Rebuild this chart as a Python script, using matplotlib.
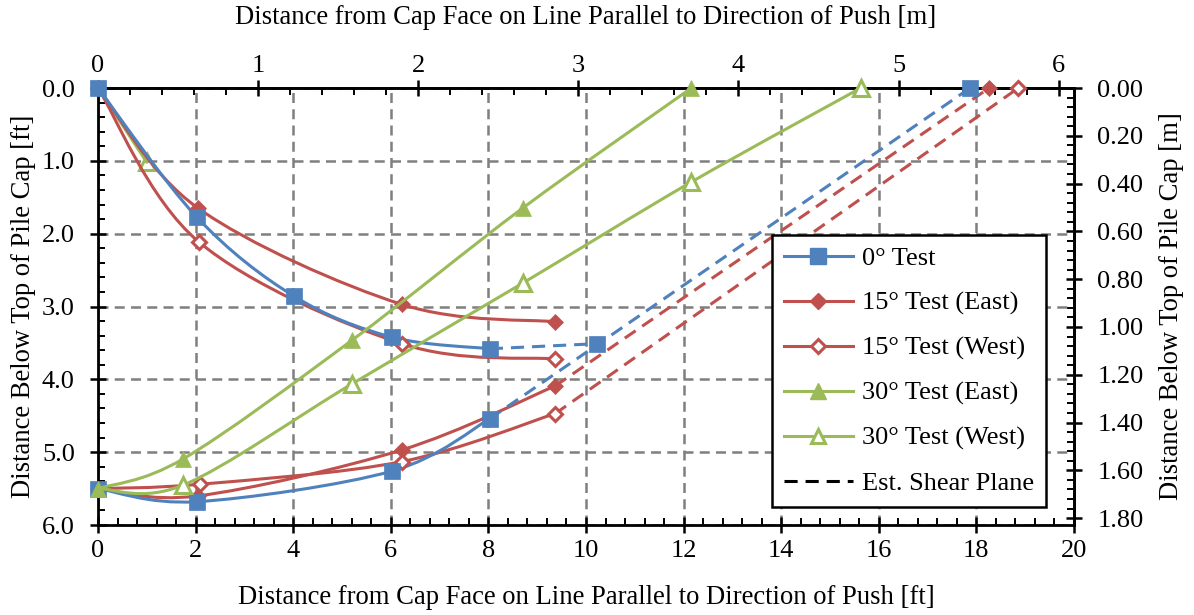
import matplotlib
matplotlib.use("Agg")
import matplotlib.pyplot as plt
import numpy as np
from matplotlib.path import Path
from matplotlib.patches import PathPatch
from matplotlib.lines import Line2D
from matplotlib.ticker import FixedLocator, FormatStrFormatter

plt.rcParams['font.family'] = ['Liberation Serif', 'DejaVu Serif']

# ---- data (ft) ----
zero_up_x = [0, 2.02, 4.02, 6.02, 8.03]
zero_up_y = [0, 1.77, 2.86, 3.42, 3.58]
zero_lo_x = [0, 2.02, 6.02, 8.03]
zero_lo_y = [5.5, 5.68, 5.26, 4.54]
zero_ext_x = [8.03, 10.23]
zero_ext_y = [3.58, 3.51]
zero_shear_x = [8.03, 17.87]
zero_shear_y = [4.54, 0.0]
zero_est_x = [10.23, 17.87]
zero_est_y = [3.51, 0.0]

e15_up_x = [0, 2.05, 6.22, 9.37]
e15_up_y = [0, 1.65, 2.97, 3.21]
e15_lo_x = [0, 2.05, 6.22, 9.37]
e15_lo_y = [5.5, 5.6, 4.97, 4.09]
e15_shear_x = [9.37, 18.26]
e15_shear_y = [4.09, 0.0]

w15_up_x = [0, 2.06, 6.22, 9.37]
w15_up_y = [0, 2.11, 3.51, 3.72]
w15_lo_x = [0, 2.09, 6.22, 9.37]
w15_lo_y = [5.5, 5.44, 5.13, 4.47]
w15_shear_x = [9.37, 18.86]
w15_shear_y = [4.47, 0.0]

e30_x = [0, 1.75, 5.21, 8.70, 12.16]
e30_y = [5.5, 5.09, 3.46, 1.65, 0.0]

w30_up_x = [0, 1.0]
w30_up_y = [0, 1.02]
w30_x = [0, 1.75, 5.21, 8.70, 12.16, 15.63]
w30_y = [5.5, 5.45, 4.06, 2.68, 1.29, 0.0]

x_ticks_ft = [0, 2, 4, 6, 8, 10, 12, 14, 16, 18, 20]
y_ticks_ft = [0, 1, 2, 3, 4, 5, 6]
x_ticks_m = [0, 1, 2, 3, 4, 5, 6]
y_ticks_m = [0.0, 0.2, 0.4, 0.6, 0.8, 1.0, 1.2, 1.4, 1.6, 1.8]

BLUE = '#4F81BD'
RED = '#C0504D'
GREEN = '#9BBB59'
LW = 2.2
DASH = (0, (4.3, 2.6))


def smooth_path(xs, ys):
    pts = np.column_stack([xs, ys]).astype(float)
    n = len(pts)
    verts = [pts[0]]
    codes = [Path.MOVETO]
    if n == 2:
        verts.append(pts[1]); codes.append(Path.LINETO)
        return Path(verts, codes)
    for i in range(n - 1):
        p0 = pts[i - 1] if i > 0 else pts[i]
        p1 = pts[i]
        p2 = pts[i + 1]
        p3 = pts[i + 2] if i + 2 < n else pts[i + 1]
        c1 = p1 + (p2 - p0) / 6.0
        c2 = p2 - (p3 - p1) / 6.0
        verts += [c1, c2, p2]
        codes += [Path.CURVE4] * 3
    return Path(verts, codes)


fig = plt.figure(figsize=(11.94, 6.15), dpi=100)
ax = fig.add_axes([0.0821, 0.1463, 0.8174, 0.7106])


def curve(xs, ys, color, z=3):
    p = PathPatch(smooth_path(xs, ys), fill=False, edgecolor=color, lw=LW,
                  zorder=z, capstyle='round', joinstyle='round')
    ax.add_patch(p)


def dashed(xs, ys, color, z=3):
    ax.plot(xs, ys, color=color, lw=LW, linestyle=DASH, zorder=z)


def marks(xs, ys, m, ms, color, hollow=False, z=4):
    if hollow:
        ax.plot(xs, ys, m, ms=ms, mfc='white', mec=color, mew=2.2, zorder=z, clip_on=False)
    else:
        ax.plot(xs, ys, m, ms=ms, mfc=color, mec=color, mew=0.5, zorder=z, clip_on=False)


# green (30 deg) upper point drawn low
curve(w30_up_x, w30_up_y, GREEN, z=2)
ax.plot(w30_up_x[1:], w30_up_y[1:], '^', ms=12, mfc='none', mec=GREEN, mew=2.2, zorder=2.5)

# 15 deg east
curve(e15_up_x, e15_up_y, RED)
curve(e15_lo_x, e15_lo_y, RED)
dashed(e15_shear_x, e15_shear_y, RED)
marks(e15_up_x, e15_up_y, 'D', 8.2, RED)
marks(e15_lo_x, e15_lo_y, 'D', 8.2, RED)
marks(e15_shear_x[1:], e15_shear_y[1:], 'D', 8.2, RED)

# 15 deg west
curve(w15_up_x, w15_up_y, RED)
curve(w15_lo_x, w15_lo_y, RED)
dashed(w15_shear_x, w15_shear_y, RED)
marks(w15_up_x[1:], w15_up_y[1:], 'D', 7.6, RED, hollow=True)
marks(w15_lo_x[1:], w15_lo_y[1:], 'D', 7.6, RED, hollow=True)
marks(w15_shear_x[1:], w15_shear_y[1:], 'D', 7.6, RED, hollow=True)

# 0 deg
curve(zero_up_x, zero_up_y, BLUE)
curve(zero_lo_x, zero_lo_y, BLUE)
dashed(zero_ext_x, zero_ext_y, BLUE)
dashed(zero_shear_x, zero_shear_y, BLUE)
marks(zero_up_x, zero_up_y, 's', 11.5, BLUE, z=4.5)
marks(zero_lo_x, zero_lo_y, 's', 11.5, BLUE, z=4.5)
marks(zero_est_x, zero_est_y, 's', 11.5, BLUE, z=4.5)

# 30 deg
curve(e30_x, e30_y, GREEN, z=5)
marks(e30_x, e30_y, '^', 12, GREEN, z=6)
curve(w30_x, w30_y, GREEN, z=5)
marks(w30_x[1:], w30_y[1:], '^', 11, GREEN, hollow=True, z=6)

# axes
ax.set_xlim(0, 20)
ax.set_ylim(6, 0)
ax.xaxis.set_major_locator(FixedLocator(x_ticks_ft))
ax.xaxis.set_minor_locator(FixedLocator(np.arange(0, 20.01, 0.4)))
ax.yaxis.set_major_locator(FixedLocator(y_ticks_ft))
ax.yaxis.set_minor_locator(FixedLocator(np.arange(0, 6.01, 0.2)))
ax.yaxis.set_major_formatter(FormatStrFormatter('%.1f'))
ax.grid(True, which='major', color='#7F7F7F', lw=1.8, linestyle=(0, (4, 2.5)), zorder=0)
ax.set_axisbelow(True)
for s in ax.spines.values():
    s.set_linewidth(2.0)

FS = 19
TFS = 19.2
MAJ = dict(which='major', direction='inout', length=11.5, width=1.8, labelsize=FS)
MIN = dict(which='minor', direction='in', length=5, width=1.4)
ax.tick_params(axis='y', pad=11, **MAJ)
ax.tick_params(axis='x', pad=5, **MAJ)
ax.tick_params(**MIN)
ax.set_xlabel('Distance from Cap Face on Line Parallel to Direction of Push [ft]',
              fontsize=TFS, va='center', ha='center')
ax.xaxis.set_label_coords(0.5, -0.1648)
ax.set_ylabel('Distance Below Top of Pile Cap [ft]', fontsize=TFS, va='center', ha='center')
ax.yaxis.set_label_coords(-0.0759, 0.5)

secx = ax.secondary_xaxis('top', functions=(lambda x: x * 0.3048, lambda m: m / 0.3048))
secx.xaxis.set_major_locator(FixedLocator(x_ticks_m))
secx.xaxis.set_minor_locator(FixedLocator(np.arange(0, 6.01, 0.2)))
secx.tick_params(pad=2, **MAJ)
secx.tick_params(**MIN)
secx.spines['top'].set_linewidth(2.0)
fig.text(0.4908, 1 - 18 / 615, 'Distance from Cap Face on Line Parallel to Direction of Push [m]',
         fontsize=TFS, ha='center', va='center')

secy = ax.secondary_yaxis('right', functions=(lambda y: y * 0.3048, lambda m: m / 0.3048))
secy.yaxis.set_major_locator(FixedLocator(y_ticks_m))
secy.yaxis.set_minor_locator(FixedLocator(np.arange(0, 1.8001, 0.04)))
secy.yaxis.set_major_formatter(FormatStrFormatter('%.2f'))
secy.tick_params(pad=11, **MAJ)
secy.tick_params(**MIN)
secy.spines['right'].set_linewidth(2.0)
fig.text(1172 / 1194, 1 - 306.5 / 615, 'Distance Below Top of Pile Cap [m]',
         fontsize=TFS, rotation=90, ha='center', va='center')

handles = [
    Line2D([], [], color=BLUE, lw=LW, marker='s', ms=11),
    Line2D([], [], color=RED, lw=LW, marker='D', ms=8),
    Line2D([], [], color=RED, lw=LW, marker='D', ms=7, mfc='white', mec=RED, mew=2.2),
    Line2D([], [], color=GREEN, lw=LW, marker='^', ms=11),
    Line2D([], [], color=GREEN, lw=LW, marker='^', ms=10, mfc='white', mec=GREEN, mew=2.2),
    Line2D([], [], color='black', lw=LW, linestyle=DASH),
]
labels = ['0° Test', '15° Test (East)', '15° Test (West)', '30° Test (East)',
          '30° Test (West)', 'Est. Shear Plane']
leg = ax.legend(handles, labels, loc='upper left',
                bbox_to_anchor=(0.6906, 0.0, 0.2807, 0.6636), mode='expand',
                fontsize=FS, frameon=True, fancybox=False, edgecolor='black',
                framealpha=1, handlelength=2.6, labelspacing=0.8, borderpad=0.45,
                handletextpad=0.35, borderaxespad=0)
leg.get_frame().set_linewidth(1.8)
leg.set_zorder(10)

fig.savefig('out.png', dpi=100)
